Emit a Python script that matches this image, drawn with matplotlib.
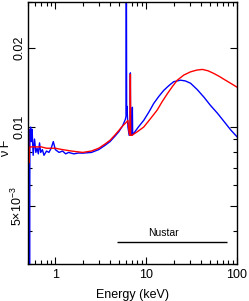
import matplotlib
matplotlib.use('Agg')
import matplotlib.pyplot as plt
from matplotlib.ticker import FixedLocator, FixedFormatter, NullFormatter

plt.rcParams['font.family'] = ['Liberation Sans', 'DejaVu Sans']
plt.rcParams['mathtext.fontset'] = 'custom'
plt.rcParams['mathtext.rm'] = 'Liberation Sans'
plt.rcParams['mathtext.it'] = 'Liberation Sans:italic'

# red model (energy keV, nuF)
red_e = [0.50, 0.505, 0.512, 0.52, 0.53, 0.6, 0.7, 0.8, 1.0, 1.2, 1.5, 2.0, 2.5,
         3.0, 3.5, 4.0, 4.5, 5.0, 5.5, 6.0, 6.3, 6.5, 6.65, 6.7, 6.75, 7.0, 7.3,
         8.0, 9.4, 11.0, 13.2, 15.0, 17.1, 19.5, 22.0, 26.0, 30.8, 36.0, 41.6,
         48.0, 56.0, 64.0, 72.3, 85.0, 100.0]
red_f = [0.0088, 0.0100, 0.0073, 0.0083, 0.0084, 0.0084, 0.0084, 0.0083, 0.0083,
         0.0082, 0.0081, 0.0080, 0.0081, 0.0083, 0.0086, 0.0089, 0.0093, 0.0097,
         0.0101, 0.0104, 0.0106, 0.0095, 0.0093, 0.0159, 0.0093, 0.0093, 0.0094,
         0.0096, 0.0100, 0.0107, 0.0116, 0.0125, 0.0134, 0.0143, 0.0151, 0.0158,
         0.01625, 0.0165, 0.0166, 0.0164, 0.0160, 0.0156, 0.0152, 0.0147, 0.0142]

# blue model
blue_e = [0.50, 0.51, 0.515, 0.52, 0.525, 0.535, 0.545, 0.555, 0.57, 0.59, 0.61,
          0.63, 0.65, 0.67, 0.69, 0.72, 0.75, 0.80, 0.85, 0.90, 0.95, 1.0, 1.1,
          1.2, 1.3, 1.4, 1.6, 1.8, 2.0, 2.5, 3.0, 3.5, 4.0, 4.5, 5.0, 5.5, 5.9,
          6.0, 6.05, 6.1, 6.15, 6.3, 6.5, 6.65, 6.7, 6.75, 6.95, 7.05, 7.1, 7.3,
          8.2, 9.39, 10.7, 12.1, 13.8, 15.6, 17.8, 20.1, 23.9, 27.0, 30.8, 36.5,
          43.3, 51.0, 60.8, 72.0, 85.5, 100.0]
blue_f = [0.0085, 0.0098, 0.0095, 0.0020, 0.0095, 0.0100, 0.0088, 0.0098, 0.0078,
          0.0090, 0.0080, 0.0083, 0.0079, 0.0087, 0.0080, 0.0082, 0.0078, 0.0081,
          0.0080, 0.0083, 0.0088, 0.0082, 0.0080, 0.0081, 0.0079, 0.0080, 0.0079,
          0.00796, 0.00795, 0.0080, 0.0082, 0.0085, 0.0088, 0.0092, 0.0096,
          0.0101, 0.0107, 0.0110, 0.05, 0.0112, 0.0120, 0.0100, 0.0093, 0.0093,
          0.0161, 0.0093, 0.0093, 0.0119, 0.0094, 0.00946,
          0.0100, 0.0106, 0.0114, 0.0123, 0.0131, 0.0138, 0.0144, 0.0149, 0.0151,
          0.0150, 0.0147, 0.0139, 0.0130, 0.0121, 0.0113, 0.0105, 0.00974, 0.00918]

nustar_band = [4.8, 78.0]
nustar_level = 0.00365

fig = plt.figure(figsize=(2.49, 3.01), dpi=100)
ax = fig.add_axes([0.1124, 0.123, 0.8394, 0.870])

ax.plot(blue_e, blue_f, color='#0000ff', lw=1.0)
ax.plot(red_e, red_f, color='#ff0000', lw=1.0)

ax.hlines(nustar_level, nustar_band[0], nustar_band[1], color='black', lw=1.0)
ax.text(15.6, 0.00394, 'Nustar', ha='center', va='center', fontsize=7.5)

ax.set_xscale('log')
ax.set_yscale('log')
ax.set_xlim(0.5, 100)
ax.set_ylim(0.003, 0.03)

ax.xaxis.set_major_locator(FixedLocator([1, 10, 100]))
ax.xaxis.set_major_formatter(FixedFormatter(['1', '10', '100']))
xminor = [0.5, 0.6, 0.7, 0.8, 0.9] + [i for i in range(2, 10)] + [10 * i for i in range(2, 10)]
ax.xaxis.set_minor_locator(FixedLocator(xminor))
ax.xaxis.set_minor_formatter(NullFormatter())

ax.yaxis.set_major_locator(FixedLocator([0.005, 0.01, 0.02]))
ax.yaxis.set_major_formatter(FixedFormatter(['5$\\times$10$^{-3}$', '0.01', '0.02']))
ax.yaxis.set_minor_locator(FixedLocator([0.003, 0.004, 0.006, 0.007, 0.008, 0.009, 0.03]))
ax.yaxis.set_minor_formatter(NullFormatter())

ax.tick_params(which='both', direction='in', top=True, right=True, labelsize=9, width=0.8)
ax.tick_params(which='major', length=5)
ax.tick_params(which='minor', length=3)
ax.tick_params(axis='y', pad=2)
for lab in ax.get_yticklabels():
    lab.set_rotation(90)
    lab.set_va('center')

for sp in ax.spines.values():
    sp.set_linewidth(1.0)

ax.set_xlabel('Energy (keV)', fontsize=9, labelpad=6)
fig.text(6.5 / 249, 1 - 148 / 301, '\u03bd F', rotation=90, ha='center', va='center', fontsize=9)

fig.savefig('out.png', dpi=100)
